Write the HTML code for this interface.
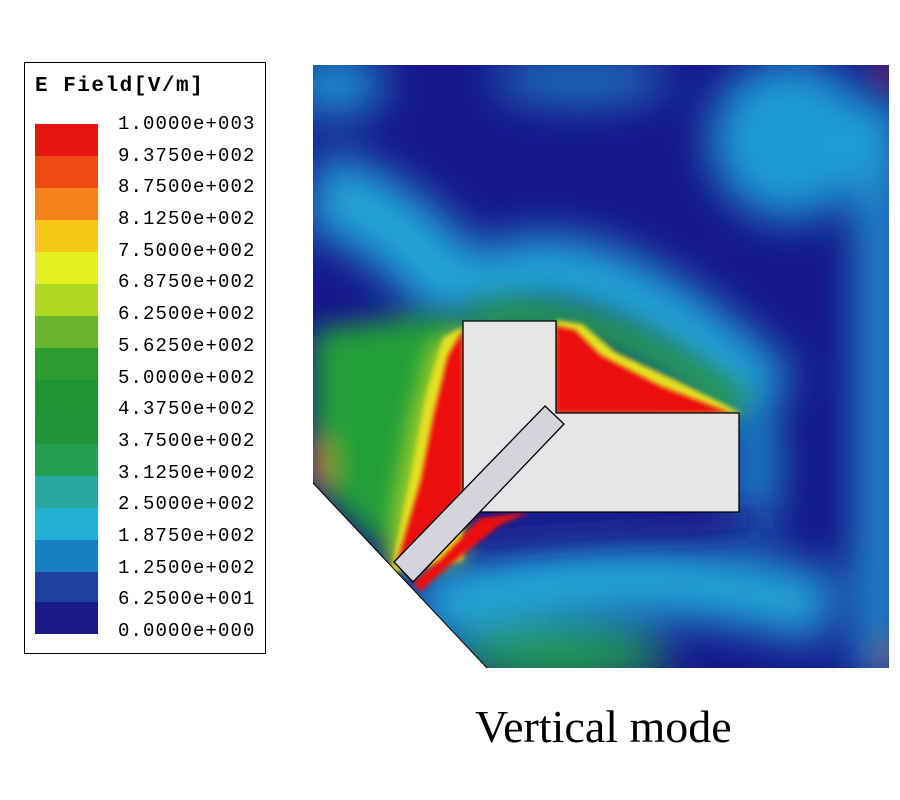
<!DOCTYPE html>
<html><head><meta charset="utf-8"><style>
body{margin:0;background:#fff;width:900px;height:800px;overflow:hidden;position:relative}
.leg{position:absolute;left:24px;top:62px;width:242px;height:592px;border:1.5px solid #000;box-sizing:border-box;background:#fff}
.t{position:absolute;left:10px;top:12px;font:bold 21px "Liberation Mono",monospace;letter-spacing:1.5px}
.sw{position:absolute;left:10px;width:63px;height:32px}
.lb{position:absolute;left:93px;font:19px "Liberation Mono",monospace;letter-spacing:1.1px}
.cap{position:absolute;left:475px;top:700px;font:46px "Liberation Serif",serif}
</style></head><body>
<div class="leg"><div class="t">E Field[V/m]</div>
<div class="sw" style="top:61px;background:#e81414"></div>
<div class="sw" style="top:93px;background:#f04a14"></div>
<div class="sw" style="top:125px;background:#f5821c"></div>
<div class="sw" style="top:157px;background:#f8c818"></div>
<div class="sw" style="top:189px;background:#e4f020"></div>
<div class="sw" style="top:221px;background:#b0d820"></div>
<div class="sw" style="top:253px;background:#6cb42c"></div>
<div class="sw" style="top:285px;background:#2c9c30"></div>
<div class="sw" style="top:317px;background:#1f9432"></div>
<div class="sw" style="top:349px;background:#1f9438"></div>
<div class="sw" style="top:381px;background:#22a050"></div>
<div class="sw" style="top:413px;background:#28a8a0"></div>
<div class="sw" style="top:445px;background:#22b0d4"></div>
<div class="sw" style="top:477px;background:#1880c0"></div>
<div class="sw" style="top:509px;background:#2040a0"></div>
<div class="sw" style="top:539px;background:#1a1a88"></div>
<div class="lb" style="top:50px">1.0000e+003</div>
<div class="lb" style="top:82px">9.3750e+002</div>
<div class="lb" style="top:113px">8.7500e+002</div>
<div class="lb" style="top:145px">8.1250e+002</div>
<div class="lb" style="top:177px">7.5000e+002</div>
<div class="lb" style="top:208px">6.8750e+002</div>
<div class="lb" style="top:240px">6.2500e+002</div>
<div class="lb" style="top:272px">5.6250e+002</div>
<div class="lb" style="top:304px">5.0000e+002</div>
<div class="lb" style="top:335px">4.3750e+002</div>
<div class="lb" style="top:367px">3.7500e+002</div>
<div class="lb" style="top:399px">3.1250e+002</div>
<div class="lb" style="top:430px">2.5000e+002</div>
<div class="lb" style="top:462px">1.8750e+002</div>
<div class="lb" style="top:494px">1.2500e+002</div>
<div class="lb" style="top:525px">6.2500e+001</div>
<div class="lb" style="top:557px">0.0000e+000</div>
</div>
<svg style="position:absolute;left:0;top:0" width="900" height="800">
<defs>
<clipPath id="c"><polygon points="313,65 889,65 889,668 487,668 313,483"/></clipPath>
<filter id="b0" x="-50%" y="-50%" width="200%" height="200%"><feGaussianBlur stdDeviation="22"/></filter>
<filter id="b1" x="-50%" y="-50%" width="200%" height="200%"><feGaussianBlur stdDeviation="14"/></filter>
<filter id="b2" x="-50%" y="-50%" width="200%" height="200%"><feGaussianBlur stdDeviation="10"/></filter>
<filter id="b3" x="-50%" y="-50%" width="200%" height="200%"><feGaussianBlur stdDeviation="2.5"/></filter>
</defs>
<g clip-path="url(#c)">
<rect x="300" y="60" width="600" height="620" fill="#16168c"/>
<g filter="url(#b0)">
<ellipse cx="335" cy="85" rx="50" ry="30" fill="#1e98d0"/>
<ellipse cx="580" cy="80" rx="90" ry="25" fill="#1e74bc"/>
<ellipse cx="790" cy="140" rx="80" ry="80" fill="#1e9cd4"/>
<rect x="860" y="100" width="40" height="580" fill="#20a4d8"/>
<path d="M313,190 Q400,210 470,310" stroke="#22a8d8" stroke-width="80" fill="none"/>
<path d="M470,300 Q570,210 770,400" stroke="#22a8d8" stroke-width="70" fill="none"/>
<path d="M750,410 Q765,480 745,530" stroke="#1e98d0" stroke-width="40" fill="none"/>
<path d="M420,610 Q600,550 830,610" stroke="#22a8d8" stroke-width="70" fill="none"/>
<ellipse cx="560" cy="655" rx="110" ry="30" fill="#24a048"/>
</g>
<g filter="url(#b1)">
<polygon points="313,330 420,315 465,320 440,480 400,560 350,520 313,480" fill="#24a038"/>
<path d="M470,322 Q580,290 740,408" stroke="#28a040" stroke-width="30" fill="none"/>
<ellipse cx="318" cy="465" rx="7" ry="25" fill="#f08020"/>
<ellipse cx="885" cy="72" rx="6" ry="15" fill="#e84020"/>
<ellipse cx="885" cy="655" rx="6" ry="15" fill="#e84020"/>
<path d="M470,540 Q620,525 760,520" stroke="#1a1a8c" stroke-width="22" fill="none"/>
</g>
<g filter="url(#b2)">
<polygon points="463,326 430,345 410,420 395,500 386,572 463,560" fill="#9ccc28"/>
</g>
<g filter="url(#b3)">
<polygon points="463,326 443,338 426,395 412,470 391,572 463,560" fill="#e4e020"/>
<polygon points="556,320 582,324 615,352 675,380 742,413 556,413" fill="#e4e020"/>
</g>
<g filter="url(#b3)">
<polygon points="463,330 448,356 434,414 421,480 396,566 463,520" fill="#ec1010"/>
<polygon points="556,326 575,330 600,355 660,386 730,413 556,413" fill="#ec1010"/>
<polygon points="413,582 440,560 480,518 530,512 500,525 450,565 420,592" fill="#ec1010"/>
</g>
</g>
<polyline points="313,483 487,668" stroke="#000" stroke-width="1" fill="none"/>
<polygon points="463,321 556,321 556,413 739,413 739,512 463,512" fill="#e6e6e8" stroke="#000" stroke-width="1.3"/>
<polygon points="545,406 564,424 413,582 394,562" fill="#d4d4dc" stroke="#000" stroke-width="1.3"/>
</svg>
<div class="cap">Vertical mode</div>
</body></html>
